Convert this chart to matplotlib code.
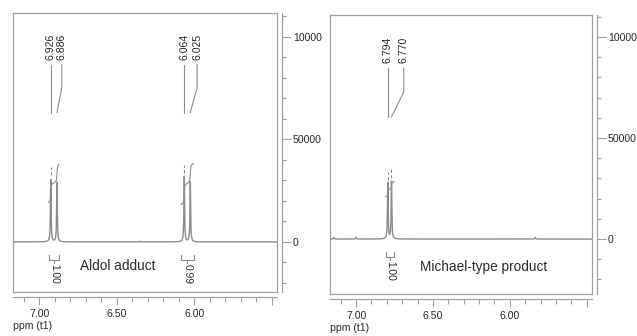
import numpy as np
import matplotlib.pyplot as plt
from matplotlib.ticker import MultipleLocator

plt.rcParams['font.family'] = ['Liberation Sans', 'DejaVu Sans']

# ---------------------------------------------
# peak lists (ppm, intensity)
aldol_shift = [6.926, 6.886, 6.064, 6.025, 6.350]
aldol_height = [30400, 29000, 32000, 29300, 400]
michael_shift = [6.794, 6.770, 7.146, 7.000, 5.834]
michael_height = [27900, 28400, 800, 800, 800]

# peak picking labels and where their text sits
aldol_labels = ['6.926', '6.886', '6.064', '6.025']
aldol_label_x = [6.926, 6.855, 6.064, 5.981]
michael_labels = ['6.794', '6.770']
michael_label_x = [6.794, 6.690]

# integrals: ppm range, curve start/end level, value
aldol_int = [(6.940, 6.873), (6.085, 6.004)]
aldol_int_y = [(19300, 37700), (18300, 38000)]
aldol_int_val = ['1.00', '0.99']
michael_int = [(6.806, 6.753)]
michael_int_y = [(20900, 28400)]
michael_int_val = ['1.00']

# little dashed marks above the peaks
aldol_dash = [(6.926, 32800, 36700), (6.064, 33400, 37400)]
michael_dash = [(6.794, 29200, 33300), (6.770, 30200, 35100)]

y_ticks = [0, 50000, 100000]
y_ticklabels = ['0', '50000', '10000']
x_ticks = [7.0, 6.5, 6.0, 5.5]
x_ticklabels = ['7.00', '6.50', '6.00', '']

LINE = '#8c8c8c'
FRAME = '#a0a0a0'
TXT = '#2a2a2a'
HWHM = 0.0025


def lorentz(x, shifts, heights):
    y = np.zeros_like(x)
    for c, h in zip(shifts, heights):
        y += h / (1 + ((x - c) / HWHM) ** 2)
    return y


def panel(rect, ylim, shifts, heights, labels, label_x, lab_y, ints, ints_y,
          ints_val, dashes, title, title_xy):
    ax = fig.add_axes(rect)
    xs = np.linspace(7.17, 5.465, 6000)
    xs = np.sort(np.concatenate([xs, shifts]))[::-1]
    ys = lorentz(xs, shifts, heights)
    ax.plot(xs, ys, color=LINE, lw=1.0)

    # integral curves
    for (a, b), (y0, y1) in zip(ints, ints_y):
        m = (xs <= a) & (xs >= b)
        c = np.cumsum(ys[m])
        c = (c - c[0]) / (c[-1] - c[0])
        ax.plot(xs[m], y0 + (y1 - y0) * c, color=LINE, lw=0.8)
    for x0, lo, hi in dashes:
        ax.vlines(x0, lo, hi, color=LINE, lw=0.8, linestyles=(0, (3, 2)))

    # peak labels with leader lines
    top, kink, low = lab_y
    for lab, lx, px in zip(labels, label_x, shifts):
        ax.text(lx, top + 2500, lab, rotation=90, ha='center', va='bottom',
                fontsize=7.6, color=TXT)
        if abs(lx - px) < 1e-6:
            ax.plot([lx, lx], [top, low], color=LINE, lw=0.8)
        else:
            ax.plot([lx, lx, px], [top, kink, low], color=LINE, lw=0.8)

    # integral brackets
    for (a, b), val in zip(ints, ints_val):
        t, bt = -6500, -8900
        xc = (a + b) / 2
        ax.plot([a, a, b, b], [t, bt, bt, t], color=LINE, lw=0.8)
        ax.plot([xc, xc], [bt, bt - 1600], color=LINE, lw=0.8)
        ax.text(xc, -10800, val, rotation=-90, ha='center', va='top',
                fontsize=7.4, color=TXT)

    ax.text(title_xy[0], title_xy[1], title, ha='center', va='center',
            fontsize=9.8, color=TXT)

    ax.set_xlim(7.17, 5.465)
    ax.set_ylim(*ylim)
    ax.set_xticks([])
    ax.set_yticks([])
    for s in ax.spines.values():
        s.set_color(FRAME)
        s.set_linewidth(0.9)

    sx = ax.secondary_xaxis(-0.018)
    sx.set_xticks(x_ticks, labels=x_ticklabels)
    sx.xaxis.set_minor_locator(MultipleLocator(0.1))
    sx.tick_params(which='major', length=5.8, width=0.8, color=FRAME,
                   labelsize=7.6, labelcolor=TXT, pad=3)
    sx.tick_params(which='minor', length=3.4, width=0.8, color=FRAME)
    sx.spines['bottom'].set_color(FRAME)
    sx.spines['bottom'].set_linewidth(0.9)
    sx.set_xlabel('ppm (t1)', loc='left', fontsize=7.6, color=TXT, labelpad=1)

    sy = ax.secondary_yaxis(1.018)
    sy.set_yticks(y_ticks, labels=y_ticklabels)
    sy.yaxis.set_minor_locator(MultipleLocator(10000))
    sy.tick_params(which='major', length=6.5, width=0.8, color=FRAME,
                   labelsize=7.6, labelcolor=TXT, pad=1.5)
    sy.tick_params(which='minor', length=3.2, width=0.8, color=FRAME)
    sy.spines['right'].set_color(FRAME)
    sy.spines['right'].set_linewidth(0.9)
    return ax


fig = plt.figure(figsize=(6.37, 3.36), dpi=100)

panel([13 / 637, 44 / 336, 264 / 637, 279 / 336], (-24400, 111500),
      aldol_shift, aldol_height, aldol_labels, aldol_label_x,
      (86300, 75100, 63000), aldol_int, aldol_int_y, aldol_int_val,
      aldol_dash, 'Aldol adduct', (6.495, -11500))

panel([330 / 637, 42 / 336, 262 / 637, 279 / 336], (-27200, 110900),
      michael_shift, michael_height, michael_labels, michael_label_x,
      (84650, 72800, 60400), michael_int, michael_int_y, michael_int_val,
      michael_dash, 'Michael-type product', (6.17, -14000))

fig.savefig('out.png', dpi=100)
